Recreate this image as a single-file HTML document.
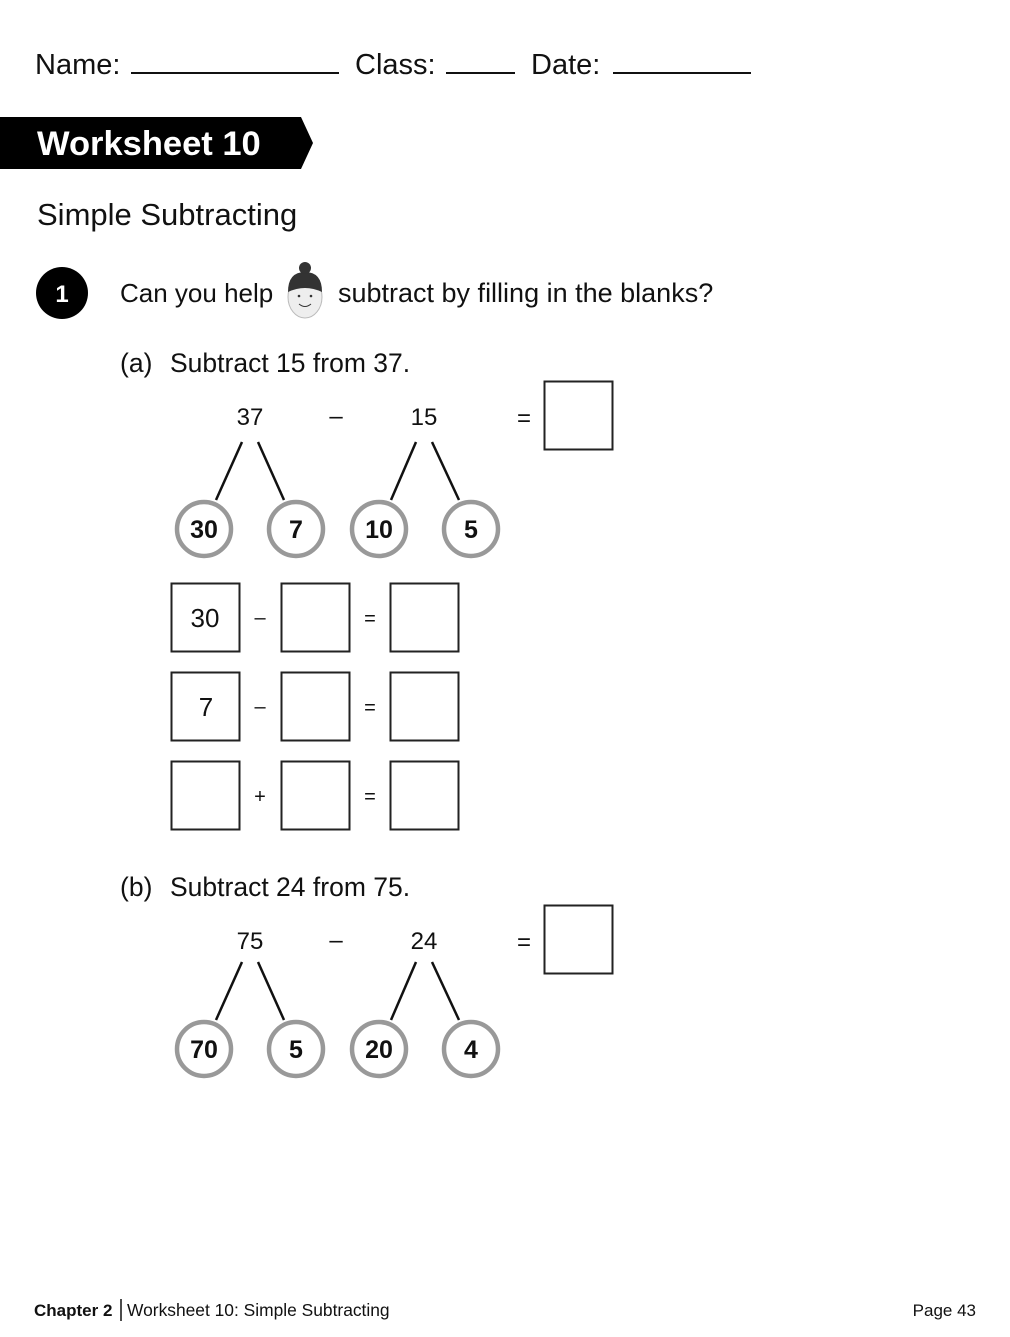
<!DOCTYPE html>
<html><head><meta charset="utf-8"><style>
html,body{margin:0;padding:0;background:#fff;}
svg{display:block;font-family:"Liberation Sans",sans-serif;}
</style></head><body>
<svg width="1010" height="1337" viewBox="0 0 1010 1337" xmlns="http://www.w3.org/2000/svg">
<rect width="1010" height="1337" fill="#fff"/>
<g font-size="29" fill="#111">
<text x="35" y="74">Name:</text>
<text x="355" y="74">Class:</text>
<text x="531" y="74">Date:</text>
</g>
<g stroke="#111" stroke-width="2">
<line x1="131" y1="73" x2="339" y2="73"/>
<line x1="446" y1="73" x2="515" y2="73"/>
<line x1="613" y1="73" x2="751" y2="73"/>
</g>
<polygon points="0,117 301,117 313,143 301,169 0,169" fill="#000"/>
<text x="37" y="155" font-size="34.5" font-weight="bold" fill="#fff">Worksheet 10</text>
<text x="37" y="225" font-size="31" fill="#111">Simple Subtracting</text>
<circle cx="62" cy="293" r="26" fill="#000"/>
<text x="62" y="302" font-size="24" font-weight="bold" fill="#fff" text-anchor="middle">1</text>
<text x="120" y="302" font-size="26" fill="#111">Can you help</text>
<g>
<ellipse cx="305" cy="297" rx="17" ry="21" fill="#eee" stroke="#bbb"/>
<path d="M288,292 Q288,272 305,272 Q322,272 322,292 Q305,284 288,292Z" fill="#333"/>
<circle cx="305" cy="268" r="6" fill="#333"/>
<circle cx="299" cy="296" r="1.3" fill="#333"/><circle cx="311" cy="296" r="1.3" fill="#333"/>
<path d="M299,304 Q305,309 311,304" stroke="#333" fill="none"/>
</g>
<text x="338" y="302" font-size="27" fill="#111">subtract by filling in the blanks?</text>

<g font-size="26.5" fill="#111">
<text x="120" y="372">(a)</text><text x="170" y="372">Subtract 15 from 37.</text>
<text x="120" y="896">(b)</text><text x="170" y="896">Subtract 24 from 75.</text>
</g>

<g>
<g font-size="24" fill="#111" text-anchor="middle">
<text x="250" y="425">37</text>
<text x="336" y="424">–</text>
<text x="424" y="425">15</text>
<text x="524" y="426">=</text>
</g>
<rect x="544.5" y="381.5" width="68" height="68" fill="none" stroke="#222" stroke-width="2"/>
<g stroke="#111" stroke-width="2.5">
<line x1="242" y1="442" x2="216" y2="500"/>
<line x1="258" y1="442" x2="284" y2="500"/>
<line x1="416" y1="442" x2="391" y2="500"/>
<line x1="432" y1="442" x2="459" y2="500"/>
</g>
<g fill="#fff" stroke="#999" stroke-width="4.5">
<circle cx="204" cy="529" r="27"/><circle cx="296" cy="529" r="27"/>
<circle cx="379" cy="529" r="27"/><circle cx="471" cy="529" r="27"/>
</g>
<g font-size="25" font-weight="bold" fill="#111" text-anchor="middle">
<text x="204" y="538">30</text><text x="296" y="538">7</text>
<text x="379" y="538">10</text><text x="471" y="538">5</text>
</g>
</g>

<g fill="none" stroke="#222" stroke-width="2">
<rect x="171.5" y="583.5" width="68" height="68"/><rect x="281.5" y="583.5" width="68" height="68"/><rect x="390.5" y="583.5" width="68" height="68"/>
<rect x="171.5" y="672.5" width="68" height="68"/><rect x="281.5" y="672.5" width="68" height="68"/><rect x="390.5" y="672.5" width="68" height="68"/>
<rect x="171.5" y="761.5" width="68" height="68"/><rect x="281.5" y="761.5" width="68" height="68"/><rect x="390.5" y="761.5" width="68" height="68"/>
</g>
<g font-size="26" fill="#111" text-anchor="middle">
<text x="205" y="627">30</text><text x="206" y="716">7</text>
</g>
<g font-size="20" fill="#111" text-anchor="middle">
<text x="260" y="624">–</text><text x="370" y="625">=</text>
<text x="260" y="713">–</text><text x="370" y="714">=</text>
<text x="260" y="803">+</text><text x="370" y="803">=</text>
</g>

<g transform="translate(0,520)">
<g font-size="24" fill="#111" text-anchor="middle">
<text x="250" y="429">75</text>
<text x="336" y="428">–</text>
<text x="424" y="429">24</text>
<text x="524" y="430">=</text>
</g>
<rect x="544.5" y="385.5" width="68" height="68" fill="none" stroke="#222" stroke-width="2"/>
<g stroke="#111" stroke-width="2.5">
<line x1="242" y1="442" x2="216" y2="500"/>
<line x1="258" y1="442" x2="284" y2="500"/>
<line x1="416" y1="442" x2="391" y2="500"/>
<line x1="432" y1="442" x2="459" y2="500"/>
</g>
<g fill="#fff" stroke="#999" stroke-width="4.5">
<circle cx="204" cy="529" r="27"/><circle cx="296" cy="529" r="27"/>
<circle cx="379" cy="529" r="27"/><circle cx="471" cy="529" r="27"/>
</g>
<g font-size="25" font-weight="bold" fill="#111" text-anchor="middle">
<text x="204" y="538">70</text><text x="296" y="538">5</text>
<text x="379" y="538">20</text><text x="471" y="538">4</text>
</g>
</g>

<text x="34" y="1316" font-size="17" font-weight="bold" fill="#111">Chapter 2</text>
<line x1="121" y1="1299" x2="121" y2="1321" stroke="#111" stroke-width="1.5"/>
<text x="127" y="1316" font-size="17.4" fill="#111">Worksheet 10: Simple Subtracting</text>
<text x="976" y="1316" font-size="17" fill="#111" text-anchor="end">Page 43</text>
</svg>
</body></html>
